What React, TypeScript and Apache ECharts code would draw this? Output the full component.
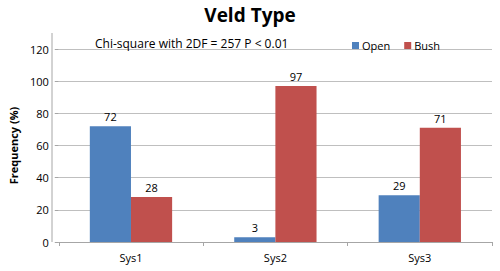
import React, { useEffect, useRef } from "react";
import * as echarts from "echarts";

const categories = ["Sys1", "Sys2", "Sys3"];
const openValues = [72, 3, 29];
const bushValues = [28, 97, 71];
const seriesNames = ["Open", "Bush"];

const FONT = "'Open Sans', 'Noto Sans', sans-serif";

export default function App() {
  const ref = useRef<HTMLDivElement>(null);
  useEffect(() => {
    if (!ref.current) return;
    const chart = echarts.init(ref.current, undefined, { renderer: "svg" });
    chart.setOption({
      animation: false,
      backgroundColor: "#ffffff",
      title: [
        {
          text: "Veld Type",
          left: "center",
          top: 0,
          textStyle: { fontFamily: FONT, fontSize: 19, fontWeight: "bold", color: "#000" },
        },
        {
          text: "Chi-square with 2DF = 257 P < 0.01",
          left: 90,
          top: 32,
          textStyle: { fontFamily: FONT, fontSize: 12, fontWeight: "normal", color: "#000" },
        },
      ],
      legend: {
        data: seriesNames,
        left: 347,
        top: 35,
        itemWidth: 7,
        itemHeight: 7,
        itemGap: 14,
        icon: "rect",
        textStyle: { fontFamily: FONT, fontSize: 11, color: "#000", padding: [0, 0, 0, -2] },
      },
      grid: { left: 52, right: 8, top: 49, bottom: 29 },
      xAxis: {
        type: "category",
        data: categories,
        axisLine: { lineStyle: { color: "#a6a6a6" } },
        axisTick: { show: true, alignWithLabel: false, length: 4, lineStyle: { color: "#a6a6a6" } },
        axisLabel: { fontFamily: FONT, fontSize: 11, color: "#000", margin: 10 },
      },
      yAxis: {
        type: "value",
        min: 0,
        max: 120,
        interval: 20,
        name: "Frequency (%)",
        nameLocation: "middle",
        nameGap: 36,
        nameTextStyle: { fontFamily: FONT, fontSize: 11, fontWeight: "bold", color: "#000" },
        axisLine: { show: false },
        axisTick: { show: true, length: 4, lineStyle: { color: "#a6a6a6" } },
        axisLabel: { fontFamily: FONT, fontSize: 11, color: "#000", margin: 10 },
        splitLine: { lineStyle: { color: "#bfbfbf" } },
      },
      graphic: [
        {
          type: "line",
          shape: { x1: 52, y1: 33, x2: 52, y2: 242 },
          style: { stroke: "#a6a6a6", lineWidth: 1 },
          z: 10,
        },
      ],
      series: [
        {
          name: seriesNames[0],
          type: "bar",
          data: openValues,
          barGap: "0%",
          barCategoryGap: "43%",
          itemStyle: { color: "#4f81bd" },
          label: { show: true, position: "top", fontFamily: FONT, fontSize: 11, color: "#000", distance: 4 },
        },
        {
          name: seriesNames[1],
          type: "bar",
          data: bushValues,
          itemStyle: { color: "#c0504d" },
          label: { show: true, position: "top", fontFamily: FONT, fontSize: 11, color: "#000", distance: 4 },
        },
      ],
    });
    return () => chart.dispose();
  }, []);
  return <div ref={ref} style={{ width: 500, height: 271, position: "absolute", left: 0, top: 0 }} />;
}
